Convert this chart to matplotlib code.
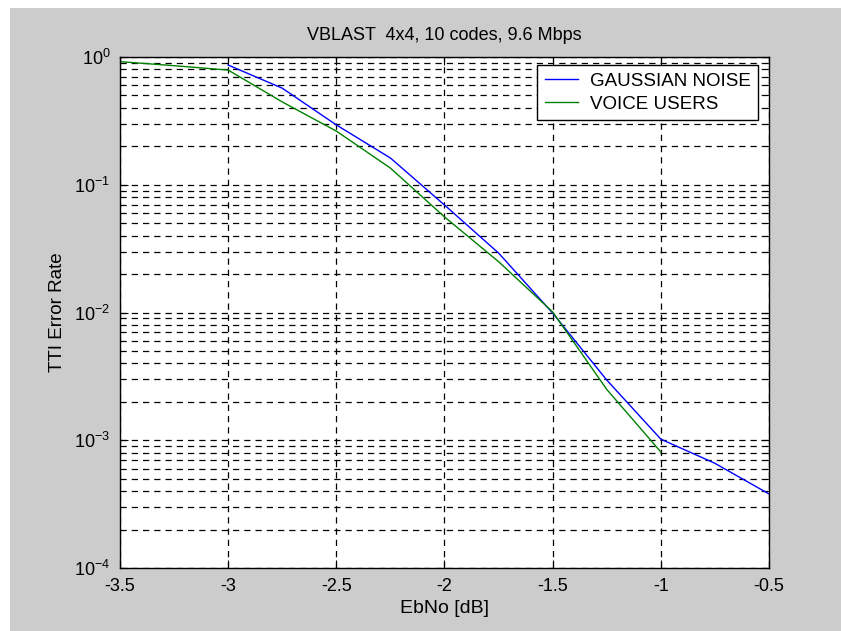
import matplotlib.pyplot as plt
from matplotlib.patches import Rectangle
from matplotlib.ticker import LogLocator, NullFormatter

plt.rcParams['font.family'] = ['Liberation Sans', 'DejaVu Sans']

# EbNo points (dB) and error rates
ebno_gauss = [-3.0, -2.75, -2.5, -2.25, -2.0, -1.75, -1.5, -1.25, -1.0, -0.75, -0.5]
tti_gauss = [0.865, 0.57, 0.294, 0.162, 0.0694, 0.0292, 0.0099, 0.00296, 0.00102, 0.00066, 0.00038]

ebno_voice = [-3.5, -3.25, -3.0, -2.75, -2.5, -2.25, -2.0, -1.75, -1.5, -1.25, -1.0]
tti_voice = [0.92, 0.855, 0.79, 0.445, 0.263, 0.135, 0.056, 0.025, 0.0101, 0.0025, 0.00081]

xticks = [-3.5, -3, -2.5, -2, -1.5, -1, -0.5]
xlabels = ['-3.5', '-3', '-2.5', '-2', '-1.5', '-1', '-0.5']

fig = plt.figure(figsize=(8.41, 6.31), dpi=100, facecolor='white')
# grey panel with a thin white margin top and left
fig.patches.append(Rectangle((10 / 841, 0), 1, 1 - 8 / 631, transform=fig.transFigure,
                             facecolor='#cccccc', edgecolor='none', zorder=-10))

ax = fig.add_axes([120 / 841, 63 / 631, 649 / 841, 511 / 631])
ax.set_facecolor('white')

ax.semilogy(ebno_gauss, tti_gauss, color='#0000ff', lw=1.0, label='GAUSSIAN NOISE')
ax.semilogy(ebno_voice, tti_voice, color='#008000', lw=1.0, label='VOICE USERS')

ax.set_xlim(-3.5, -0.5)
ax.set_ylim(1e-4, 1)
ax.set_xticks(xticks)
ax.set_xticklabels(xlabels)
ax.yaxis.set_major_locator(LogLocator(base=10, numticks=10))
ax.yaxis.set_minor_locator(LogLocator(base=10, subs=range(2, 10), numticks=20))
ax.yaxis.set_minor_formatter(NullFormatter())

dash = (0, (5, 4))
ax.grid(True, which='major', axis='both', color='black', lw=0.9, linestyle=dash)
ax.grid(True, which='minor', axis='y', color='black', lw=0.9, linestyle=dash)

ax.tick_params(which='both', direction='in', top=True, right=True, labelsize=13, colors='black')
ax.tick_params(which='major', length=6)
ax.tick_params(which='minor', length=3)
ax.tick_params(axis='x', which='major', pad=7)
ax.tick_params(axis='y', which='major', pad=7)
for s in ax.spines.values():
    s.set_linewidth(1.0)
    s.set_color('black')

ax.set_title('VBLAST  4x4, 10 codes, 9.6 Mbps', fontsize=13, pad=12)
ax.set_xlabel('EbNo [dB]', fontsize=14, labelpad=4)
ax.set_ylabel('TTI Error Rate', fontsize=13.5, labelpad=6)

leg = ax.legend(loc='upper right', bbox_to_anchor=(0.983, 0.984), borderaxespad=0,
                fontsize=13.5, fancybox=False, framealpha=1, edgecolor='black',
                handlelength=1.8, handletextpad=0.6, borderpad=0.4, labelspacing=0.3)
leg.get_frame().set_linewidth(1.0)

fig.savefig('out.png', dpi=100, facecolor=fig.get_facecolor())
